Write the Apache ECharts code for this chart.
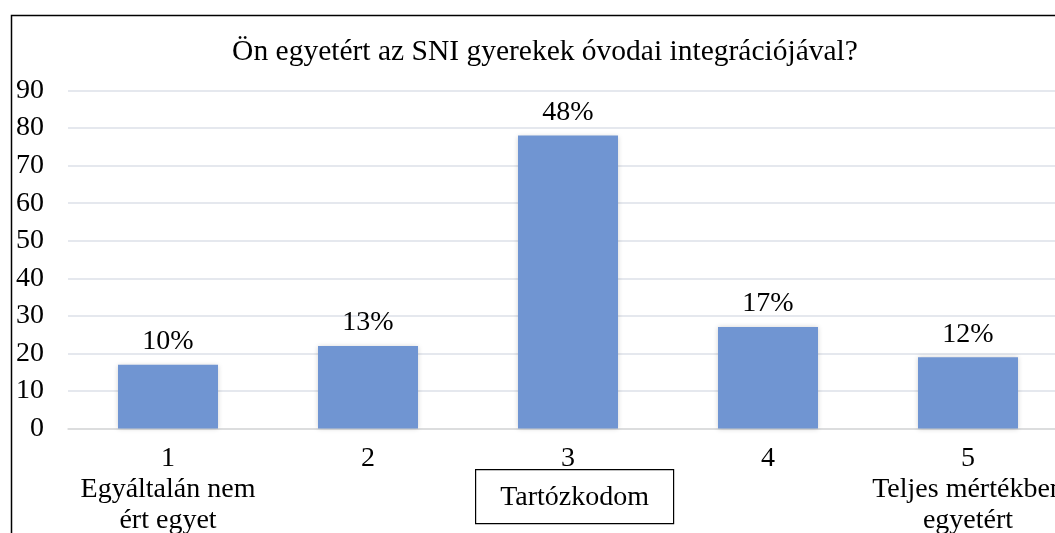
<!DOCTYPE html>
<html>
<head>
<meta charset="utf-8">
<script src="https://cdn.jsdelivr.net/npm/echarts@6/dist/echarts.min.js"></script>
<style>
html,body{margin:0;padding:0;background:#fff;}
#chart{width:1055px;height:533px;}
</style>
</head>
<body>
<div id="chart"></div>
<script>
var titleText = 'Ön egyetért az SNI gyerekek óvodai integrációjával?';
var categories = ['1\nEgyáltalán nem\nért egyet', '2', '3', '4', '5\nTeljes mértékben\negyetért'];
var values = [17, 22, 78, 27, 19];
var pctLabels = ['10%', '13%', '48%', '17%', '12%'];
var boxText = 'Tartózkodom';
var yTicks = {min: 0, max: 90, interval: 10};

var FONT = '"Liberation Serif", "Times New Roman", serif';
var chart = echarts.init(document.getElementById('chart'), null, {renderer: 'canvas'});
chart.setOption({
  backgroundColor: '#fff',
  animation: false,
  title: {
    text: titleText,
    left: 540,
    top: 32,
    textAlign: 'center',
    textStyle: {fontFamily: FONT, fontSize: 29.5, fontWeight: 'normal', color: '#000'}
  },
  grid: {left: 68, top: 90.5, width: 1000, height: 338, outerBoundsMode: 'none', containLabel: false},
  xAxis: {
    type: 'category',
    data: categories,
    axisLine: {show: true, lineStyle: {color: '#d9d9d9', width: 1.5}},
    axisTick: {show: false},
    axisLabel: {
      fontFamily: FONT, fontSize: 28, color: '#000', lineHeight: 31, margin: 15, interval: 0
    }
  },
  yAxis: {
    type: 'value',
    min: yTicks.min, max: yTicks.max, interval: yTicks.interval,
    axisLine: {show: false},
    axisTick: {show: false},
    splitLine: {lineStyle: {color: '#dde1e8', width: 1.5}},
    axisLabel: {fontFamily: FONT, fontSize: 28, color: '#000', margin: 24}
  },
  series: [{
    type: 'bar',
    data: values,
    barWidth: '50%',
    itemStyle: {
      color: '#7095d2',
      shadowBlur: 5,
      shadowColor: 'rgba(0,0,0,0.18)'
    },
    label: {
      show: true,
      position: 'top',
      distance: 9,
      fontFamily: FONT, fontSize: 28, color: '#000',
      formatter: function (p) { return pctLabels[p.dataIndex]; }
    }
  }],
  graphic: [
    {
      type: 'rect',
      left: 9, top: 13,
      shape: {x: 0, y: 0, width: 1200, height: 700},
      style: {fill: 'none', stroke: '#000', lineWidth: 1.5},
      silent: true, z: 100
    },
    {
      type: 'group',
      left: 475, top: 469, z: 100,
      children: [
        {type: 'rect', shape: {x: 0, y: 0, width: 198, height: 54},
         style: {fill: '#fff', stroke: '#000', lineWidth: 1.2}},
        {type: 'text', x: 99, y: 28,
         style: {text: boxText, fontFamily: FONT, fontSize: 28, fill: '#000',
                 textAlign: 'center', textVerticalAlign: 'middle'}}
      ]
    }
  ]
});
</script>
</body>
</html>
